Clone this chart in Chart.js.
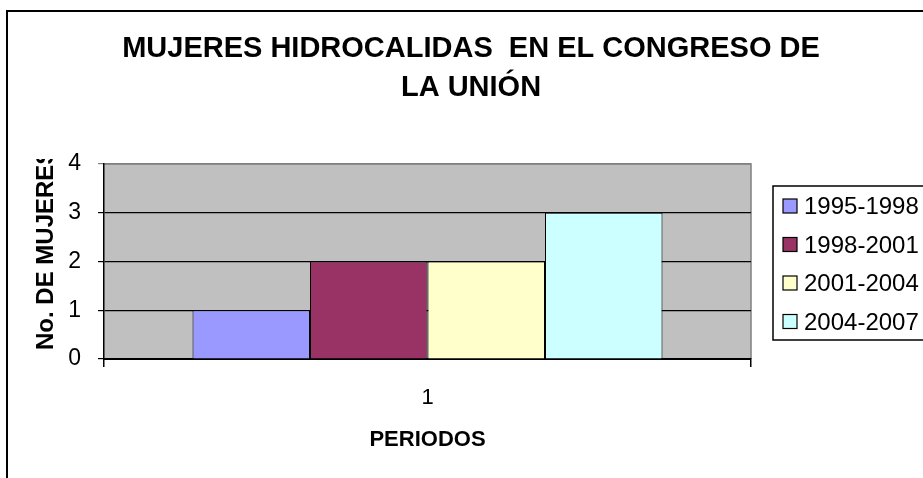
<!DOCTYPE html>
<html>
<head>
<meta charset="utf-8">
<script src="https://cdn.jsdelivr.net/npm/chart.js@4/dist/chart.umd.min.js"></script>
<style>
  body { margin: 0; background: #fff; }
  canvas { display: block; }
</style>
</head>
<body>
<canvas id="chart" width="923" height="478"></canvas>
<script>
// chart values
const categories = ["1"];
const periodos = ["1995-1998", "1998-2001", "2001-2004", "2004-2007"];
const mujeres = [1, 2, 2, 3];
const colores = ["#9999FF", "#993366", "#FFFFCC", "#CCFFFF"];
const yTicks = [0, 1, 2, 3, 4];

const tituloLineas = ["MUJERES HIDROCALIDAS  EN EL CONGRESO DE", "LA UNIÓN"];
const tituloY = "No. DE MUJERES";
const tituloX = "PERIODOS";

const FONT = "Arial, 'Liberation Sans', sans-serif";
Chart.defaults.font.family = FONT;
Chart.defaults.color = "#000";

// gray plot area + outer frame
const fondo = {
    id: "fondo",
    beforeDraw: (chart) => {
        const {ctx, chartArea: a} = chart;
        ctx.save();
        ctx.fillStyle = "#FFFFFF";
        ctx.fillRect(0, 0, chart.width, chart.height);
        ctx.lineWidth = 2;
        ctx.strokeStyle = "#000";
        ctx.strokeRect(7, 11, 1000, 1000);
        ctx.fillStyle = "#C0C0C0";
        ctx.fillRect(a.left, a.top, a.right - a.left, a.bottom - a.top);
        ctx.strokeStyle = "#808080";
        ctx.lineWidth = 1.5;
        ctx.beginPath();
        ctx.moveTo(a.left, a.top);
        ctx.lineTo(a.right, a.top);
        ctx.lineTo(a.right, a.bottom);
        ctx.stroke();
        ctx.restore();
    }
};

// y title is cut at the top in the original, so it is drawn by hand with a clip
const tituloEjeY = {
    id: "tituloEjeY",
    afterDraw: (chart) => {
        const {ctx} = chart;
        ctx.save();
        ctx.beginPath();
        ctx.rect(0, 159, 100, 300);
        ctx.clip();
        ctx.translate(46, 350);
        ctx.rotate(-Math.PI / 2);
        ctx.font = "bold 24px " + FONT;
        ctx.fillStyle = "#000";
        ctx.textAlign = "left";
        ctx.textBaseline = "middle";
        ctx.fillText(tituloY, 0, 0);
        ctx.restore();
    }
};

// boxed legend on the right, like the excel one
const leyenda = {
    id: "leyenda",
    afterDraw: (chart) => {
        const {ctx} = chart;
        ctx.save();
        ctx.lineWidth = 1.5;
        ctx.strokeStyle = "#000";
        ctx.strokeRect(773, 186, 200, 154);
        ctx.font = "24px " + FONT;
        ctx.textBaseline = "middle";
        chart.data.datasets.forEach((ds, i) => {
            let y = 206 + i * 38.5;
            ctx.fillStyle = ds.backgroundColor;
            ctx.fillRect(783, y - 7, 14, 14);
            ctx.lineWidth = 1.2;
            ctx.strokeRect(783, y - 7, 14, 14);
            ctx.fillStyle = "#000";
            ctx.fillText(ds.label, 804, y + 1.5);
        });
        ctx.restore();
    }
};

let config = {
    type: "bar",
    data: {
        labels: categories,
        datasets: periodos.map((p, i) => ({
            label: p,
            data: [mujeres[i]],
            backgroundColor: colores[i],
            borderColor: "#000",
            borderWidth: 1,
            categoryPercentage: 0.7264,
            barPercentage: 1
        }))
    },
    options: {
        responsive: false,
        animation: false,
        layout: {
            padding: {left: 19, right: 0, top: 0, bottom: 24.6}
        },
        scales: {
            x: {
                grid: {
                    display: true,
                    drawOnChartArea: false,
                    drawTicks: true,
                    tickLength: 8,
                    color: "#000",
                    lineWidth: 1.5
                },
                border: {color: "#000", width: 2},
                ticks: {font: {size: 22}, padding: 17.8},
                title: {
                    display: true,
                    text: tituloX,
                    font: {size: 22, weight: "bold"},
                    padding: {top: -2, bottom: 0}
                }
            },
            y: {
                min: 0,
                max: 4,
                afterFit: (s) => { s.width = 85; },
                afterBuildTicks: (s) => { s.ticks = yTicks.map(v => ({value: v})); },
                grid: {
                    color: (c) => (c.tick && c.tick.value === 4) ? "#808080" : "#000",
                    lineWidth: 1.2,
                    tickLength: 6
                },
                border: {color: "#000", width: 1.5},
                ticks: {font: {size: 23}, padding: 17}
            },
            y2: {
                position: "right",
                display: true,
                grid: {display: false},
                border: {display: false},
                ticks: {display: false},
                afterFit: (s) => { s.width = 172; }
            }
        },
        plugins: {
            legend: {display: false},
            tooltip: {enabled: false},
            title: {
                display: true,
                text: tituloLineas,
                color: "#000",
                font: {size: 29, weight: "bold", lineHeight: 1.35},
                padding: {top: 29, bottom: 56.7}
            }
        }
    },
    plugins: [fondo, tituloEjeY, leyenda]
};

new Chart(document.getElementById("chart"), config);
</script>
</body>
</html>
